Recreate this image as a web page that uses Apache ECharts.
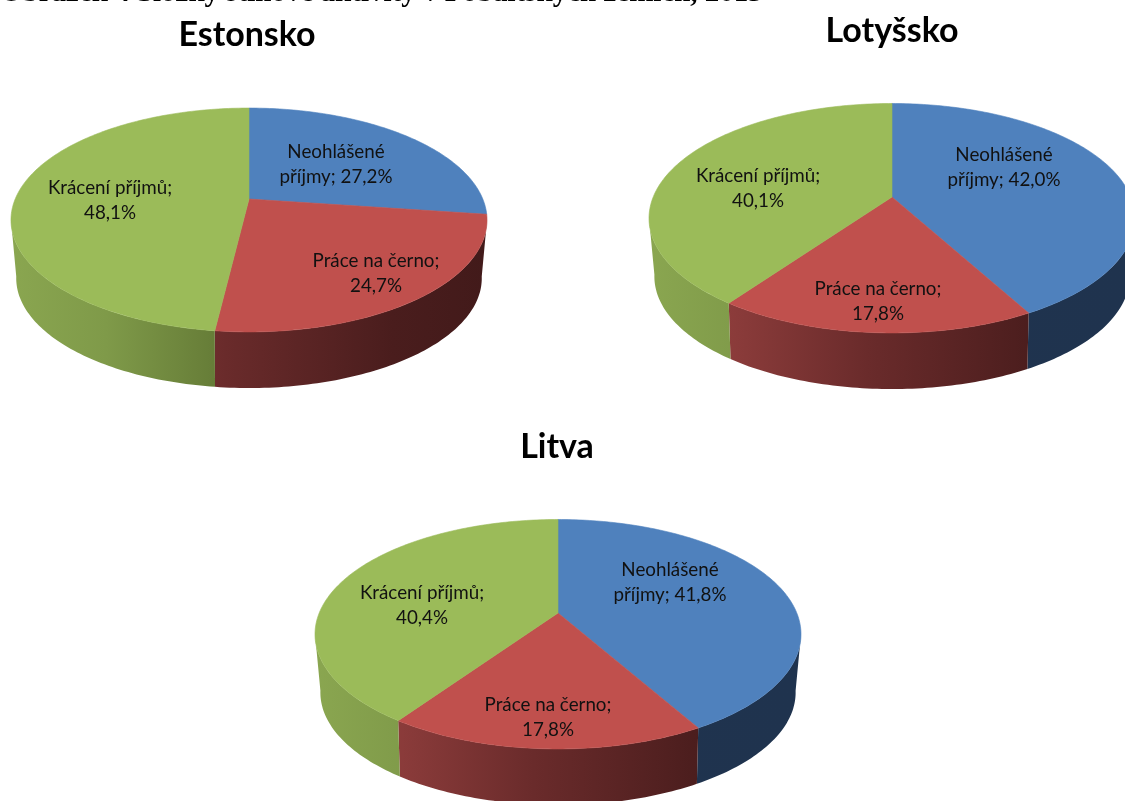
<!DOCTYPE html>
<html><head><meta charset="utf-8">
<style>html,body{margin:0;padding:0;background:#fff;overflow:hidden}#c{width:1125px;height:801px;filter:blur(0.5px)}</style>
<script src="https://cdn.jsdelivr.net/npm/echarts@6/dist/echarts.min.js"></script>
</head><body><div id="c"></div>
<script>
const categories = ['Neohlášené\npříjmy', 'Práce na černo', 'Krácení příjmů'];
const labelJoin = [' ', '\n', '\n'];
const estonsko = [27.2, 24.7, 48.1];
const lotyssko = [42.0, 17.8, 40.1];
const litva = [41.8, 17.8, 40.4];
const pieNames = ['Estonsko', 'Lotyšsko', 'Litva'];
const pieValues = [estonsko, lotyssko, litva];

// layout: apex px, radii, perspective
const geo = [
  {cx: 249, cy: 199, rx: 233.8, ry: 108, k: 0.1875},
  {cx: 892, cy: 197, rx: 238.8, ry: 110.8, k: 0.185},
  {cx: 558, cy: 613, rx: 238.8, ry: 110.8, k: 0.185}
];
const depth = 57, shrink = 0.975, bottomK = 0.015;
const titleAnchors = [[247, 18], [892, 14], [557, 430]];
// label centre offsets from the pie apex, px
const labelOffsets = [
  [[87, -35], [127, 74], [-139, 1]],
  [[112, -30], [-14, 104], [-134, -9]],
  [[112, -31], [-10, 104], [-136, -8]]
];
const faceColors = ['#4f81bd', '#c0504d', '#9bbb59'];
const wallStops = [
  [[0, '#1f3450'], [1, '#1f334e']],
  [[0, '#a04443'], [0.2, '#883a39'], [0.45, '#6a2b2b'], [0.8, '#4a1d1d'], [1, '#421a1a']],
  [[0, '#8aa650'], [0.2, '#7f9a49'], [0.45, '#647a36'], [1, '#5a6e30']]
];

function pt(g, deg, s, dy, dk) {
  const a = deg * Math.PI / 180, u = Math.sin(a), v = -Math.cos(a), w = 1 - (g.k + dk) * v;
  return [g.cx + s * g.rx * u / w, g.cy + dy + s * g.ry * v / w];
}
function arc(g, a0, a1, s, dy, dk) {
  const n = Math.max(2, Math.ceil(Math.abs(a1 - a0))), out = [];
  for (let i = 0; i <= n; i++) out.push(pt(g, a0 + (a1 - a0) * i / n, s, dy, dk));
  return out;
}
function spans(vals) {
  const sum = vals.reduce((a, b) => a + b, 0);
  let acc = 0;
  return vals.map(v => { const a0 = acc / sum * 360; acc += v; return [a0, acc / sum * 360]; });
}

function wallSeries(p) {
  const g = geo[p], sp = spans(pieValues[p]);
  // the rim points where the wall's outline leaves the top ellipse
  const edge = Math.acos(-g.k) * 180 / Math.PI;
  return {
    type: 'custom', coordinateSystem: 'none', silent: true, z: 2, clip: false,
    data: pieValues[p].map((v, i) => [i, v]),
    renderItem: (params, api) => {
      const i = api.value(0), a0 = Math.max(sp[i][0], edge), a1 = Math.min(sp[i][1], 360 - edge);
      if (a1 <= a0) return {type: 'group', children: []};
      const points = arc(g, a0, a1, 1, 0, 0).concat(arc(g, a1, a0, shrink, depth, bottomK));
      const half = g.rx * 1.02;
      const fill = new echarts.graphic.LinearGradient(g.cx - half, 0, g.cx + half, 0,
        wallStops[i].map(s => ({offset: s[0], color: s[1]})), true);
      return {type: 'polygon', shape: {points}, style: {fill, stroke: null}};
    }
  };
}
function faceSeries(p) {
  const g = geo[p], sp = spans(pieValues[p]);
  return {
    type: 'custom', coordinateSystem: 'none', silent: true, z: 3, clip: false,
    data: pieValues[p].map((v, i) => [i, v]),
    renderItem: (params, api) => {
      const i = api.value(0), val = api.value(1);
      const points = [[g.cx, g.cy]].concat(arc(g, sp[i][0], sp[i][1], 1, 0, 0));
      const off = labelOffsets[p][i];
      const text = categories[i] + ';' + labelJoin[i] + val.toFixed(1).replace('.', ',') + '%';
      return {type: 'group', children: [
        {type: 'polygon', shape: {points}, style: {fill: faceColors[i], stroke: faceColors[i], lineWidth: 0.6}},
        {type: 'text', z2: 10, style: {x: g.cx + off[0], y: g.cy + off[1], text, fill: '#111',
          font: '18.8px Lato', align: 'center', verticalAlign: 'middle', lineHeight: 25}}
      ]};
    }
  };
}

const chart = echarts.init(document.getElementById('c'));
chart.setOption({
  animation: false,
  backgroundColor: '#ffffff',
  title: pieNames.map((n, i) => ({
    text: n, left: titleAnchors[i][0], top: titleAnchors[i][1], textAlign: 'center', padding: 0,
    textStyle: {fontFamily: 'Lato', fontWeight: 'bold', fontSize: 34, color: '#000'}
  })).concat([{
    text: 'Obrázek 4 Složky stínové aktivity v Pobaltských zemích, 2013', left: 0, top: -21, padding: 0,
    textStyle: {fontFamily: 'Liberation Serif', fontWeight: 'bold', fontSize: 29, color: '#000'}
  }]),
  series: [0, 1, 2].map(wallSeries).concat([0, 1, 2].map(faceSeries))
});
</script></body></html>
